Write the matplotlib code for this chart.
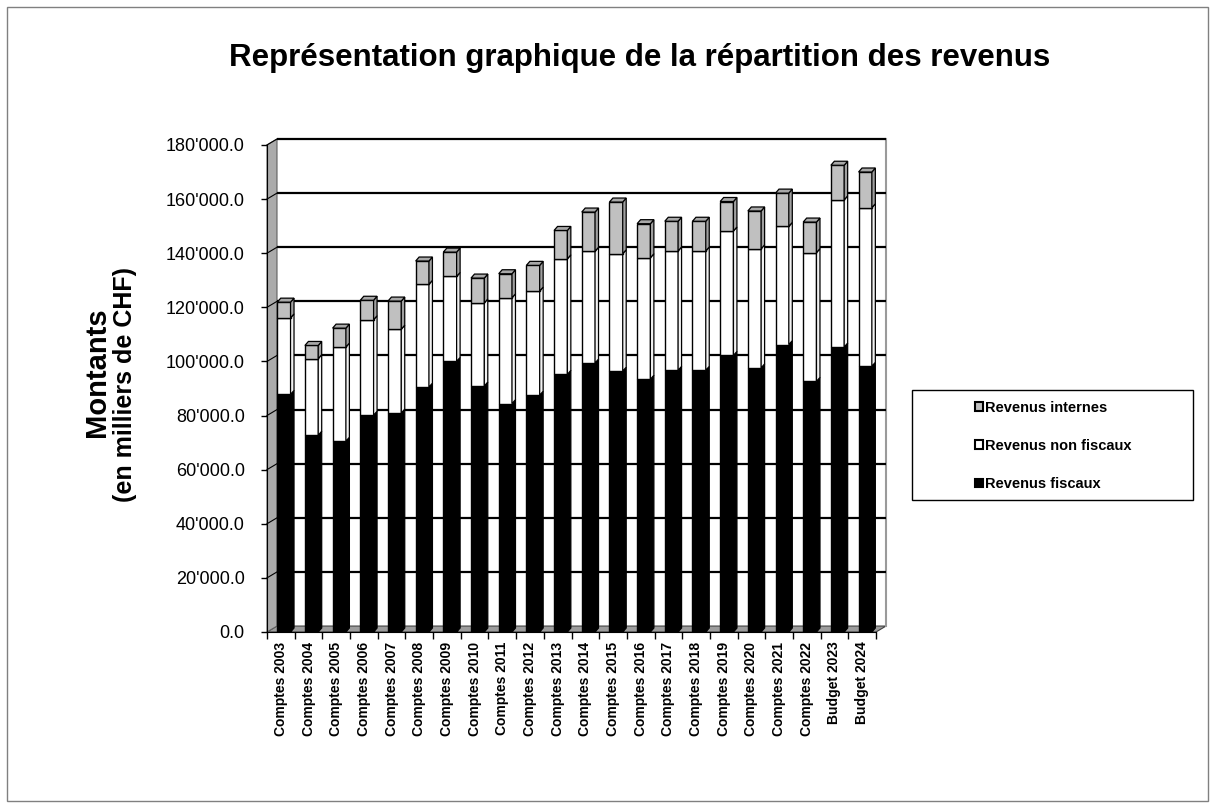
import matplotlib
matplotlib.use("Agg")
import matplotlib.pyplot as plt
from matplotlib.patches import Polygon, Rectangle, Patch
import numpy as np

plt.rcParams['font.family'] = ['Liberation Sans', 'DejaVu Sans']

# ---- data (milliers de CHF) ----
categories = ["Comptes 2003", "Comptes 2004", "Comptes 2005", "Comptes 2006", "Comptes 2007",
              "Comptes 2008", "Comptes 2009", "Comptes 2010", "Comptes 2011", "Comptes 2012",
              "Comptes 2013", "Comptes 2014", "Comptes 2015", "Comptes 2016", "Comptes 2017",
              "Comptes 2018", "Comptes 2019", "Comptes 2020", "Comptes 2021", "Comptes 2022",
              "Budget 2023", "Budget 2024"]
revenus_fiscaux = [87800, 72700, 70500, 80100, 80900, 90500, 100000, 90900, 84400, 87500, 95200,
                   99400, 96400, 93400, 96700, 96700, 102200, 97600, 106200, 92600, 105300, 98200]
revenus_non_fiscaux = [28300, 28300, 34800, 35300, 31000, 38000, 31400, 30700, 39100, 38500, 42700,
                       41300, 43400, 44900, 44100, 44100, 46000, 44000, 43700, 47600, 54400, 58600]
revenus_internes = [5800, 4900, 7000, 7200, 10400, 8600, 9000, 9200, 8900, 9500, 10500,
                    14500, 19100, 12600, 11000, 11000, 10900, 14000, 12300, 11300, 12800, 13200]
series_names = ["Revenus fiscaux", "Revenus non fiscaux", "Revenus internes"]
y_ticks = [0, 20000, 40000, 60000, 80000, 100000, 120000, 140000, 160000, 180000]
y_tick_labels = ["0.0", "20'000.0", "40'000.0", "60'000.0", "80'000.0", "100'000.0",
                 "120'000.0", "140'000.0", "160'000.0", "180'000.0"]

W_PX, H_PX = 1215, 808
fig = plt.figure(figsize=(W_PX / 100, H_PX / 100), dpi=100)

# outer border
fig.patches.append(Rectangle((7 / W_PX, 7 / H_PX), (1208 - 7) / W_PX, (801 - 7) / H_PX,
                             transform=fig.transFigure, fill=False, edgecolor='#808080', lw=1.0))

ax_l, ax_r, ax_t, ax_b = 267, 886, 139, 632
ax = fig.add_axes([ax_l / W_PX, 1 - ax_b / H_PX, (ax_r - ax_l) / W_PX, (ax_b - ax_t) / H_PX])

n = len(categories)
x = np.arange(n)
DX, DY = 0.361, 2200          # wall depth offset
YMAX = 180000
ax.set_xlim(-0.5, n - 0.5 + DX)
ax.set_ylim(0, YMAX + DY)
ax.patch.set_visible(False)

x0, x1 = -0.5, n - 0.5
# floor
ax.add_patch(Polygon([(x0, 0), (x1, 0), (x1 + DX, DY), (x0 + DX, DY)], closed=True,
                     facecolor='#9c9c9c', edgecolor='#404040', lw=0.8, zorder=1, clip_on=False))
# left wall
ax.add_patch(Polygon([(x0, 0), (x0 + DX, DY), (x0 + DX, YMAX + DY), (x0, YMAX)], closed=True,
                     facecolor='#ababab', edgecolor='#606060', lw=0.8, zorder=1, clip_on=False))
# back-wall gridlines and side-wall diagonals
for v in y_ticks[1:]:
    ax.plot([x0 + DX, x1 + DX], [v + DY, v + DY], color='black', lw=1.6, zorder=1.5,
            solid_capstyle='butt', clip_on=False)
    ax.plot([x0, x0 + DX], [v, v + DY], color='black', lw=0.8, zorder=1.5, clip_on=False)
# right edge of back wall
ax.plot([x1 + DX, x1 + DX], [DY, YMAX + DY], color='#9a9a9a', lw=1.5, zorder=1.2, clip_on=False)

# bars
OFF, W = 0.11, 0.48
BX, BY = 0.126, 1480
front_cols = ['#000000', '#ffffff', '#c0c0c0']
side_cols = ['#000000', '#f2f2f2', '#a0a0a0']
top_col = '#a8a8a8'
series = [revenus_fiscaux, revenus_non_fiscaux, revenus_internes]
bottom = np.zeros(n)
for s, vals in enumerate(series):
    vals = np.array(vals, dtype=float)
    ax.bar(x + OFF, vals, W, bottom=bottom, color=front_cols[s], edgecolor='black',
           lw=1.0, zorder=3)
    for i in range(n):
        r = x[i] + OFF + W / 2
        b, t = bottom[i], bottom[i] + vals[i]
        ax.add_patch(Polygon([(r, b), (r + BX, b + BY), (r + BX, t + BY), (r, t)], closed=True,
                             facecolor=side_cols[s], edgecolor='black', lw=0.9, zorder=3))
    bottom = bottom + vals
for i in range(n):
    l = x[i] + OFF - W / 2
    r = x[i] + OFF + W / 2
    t = bottom[i]
    ax.add_patch(Polygon([(l, t), (r, t), (r + BX, t + BY), (l + BX, t + BY)], closed=True,
                         facecolor=top_col, edgecolor='black', lw=0.9, zorder=4))

# axes / spines
for sp in ['top', 'right']:
    ax.spines[sp].set_visible(False)
ax.spines['left'].set_bounds(0, YMAX)
ax.spines['bottom'].set_bounds(x0, x1)
ax.spines['left'].set_zorder(5)
ax.spines['bottom'].set_zorder(5)
ax.set_yticks(y_ticks)
ax.set_yticklabels(y_tick_labels, fontsize=13)
ax.tick_params(axis='y', direction='out', length=4, width=1, pad=12)
ax.set_xticks(x)
ax.set_xticklabels(categories, rotation=90, fontsize=10, fontweight='bold')
ax.set_xticks(np.arange(n + 1) - 0.5, minor=True)
ax.tick_params(axis='x', which='major', length=0, pad=7)
ax.tick_params(axis='x', which='minor', direction='out', length=5, width=1)

# title and y label
fig.text(640 / W_PX, 1 - 58 / H_PX, "Représentation graphique de la répartition des revenus",
         ha='center', va='center', fontsize=22.5, fontweight='bold')
fig.text(97 / W_PX, 1 - 372 / H_PX, "Montants", rotation=90,
         ha='center', va='center', fontsize=21, fontweight='bold')
fig.text(125 / W_PX, 1 - 384 / H_PX, "(en milliers de CHF)", rotation=90,
         ha='center', va='center', fontsize=18, fontweight='bold')

# legend box
fig.patches.append(Rectangle((912 / W_PX, 1 - 500 / H_PX), (1193 - 912) / W_PX, (500 - 390) / H_PX,
                             transform=fig.transFigure, fill=False, edgecolor='black', lw=1.0))
handles = [Patch(facecolor=front_cols[2], edgecolor='black', lw=1.5),
           Patch(facecolor=front_cols[1], edgecolor='black', lw=1.5),
           Patch(facecolor=front_cols[0], edgecolor='black', lw=1.5)]
labels = [series_names[2], series_names[1], series_names[0]]
fig.legend(handles, labels, loc='center', bbox_to_anchor=(1053 / W_PX, 1 - 446 / H_PX),
           frameon=False, prop={'size': 10.5, 'weight': 'bold'}, handlelength=0.55,
           handleheight=0.55, handletextpad=0.15, labelspacing=1.65)

fig.savefig("out.png", dpi=100)
